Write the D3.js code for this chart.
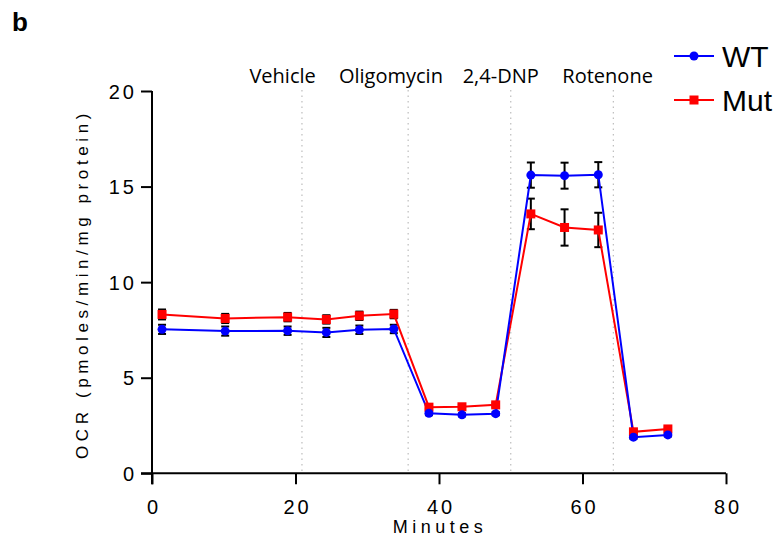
<!DOCTYPE html>
<html>
<head>
<meta charset="utf-8">
<script src="https://cdn.jsdelivr.net/npm/d3@7"></script>
<style>
body { margin: 0; background: #fff; }
svg { font-family: "Liberation Sans", Arial, sans-serif; }
.axis path, .axis line { stroke: #000; stroke-width: 2; }
.axis text { font-size: 20px; letter-spacing: 3px; fill: #000; }
.inj { font-family: "Open Sans", sans-serif; font-size: 20px; }
</style>
</head>
<body>
<div id="chart"></div>
<script>
var w = 778, h = 544;

// time points (minutes)
var minutes = [1.4, 10.2, 18.9, 24.3, 28.9, 33.7, 38.6, 43.2, 47.9, 52.8, 57.5, 62.2, 67.1, 71.9];
var wt     = [7.53, 7.44, 7.46, 7.37, 7.51, 7.55, 3.14, 3.06, 3.12, 15.60, 15.57, 15.62, 1.89, 2.01];
var wtErr  = [0.24, 0.24, 0.22, 0.24, 0.22, 0.22, 0.10, 0.08, 0.08, 0.66, 0.68, 0.66, 0.08, 0.08];
var mut    = [8.31, 8.10, 8.17, 8.05, 8.24, 8.33, 3.46, 3.48, 3.58, 13.57, 12.86, 12.73, 2.17, 2.32];
var mutErr = [0.26, 0.24, 0.22, 0.22, 0.22, 0.22, 0.10, 0.10, 0.10, 0.80, 0.95, 0.90, 0.08, 0.08];

var injections = [20.9, 35.7, 50.0, 64.3];
var injLabels = ["Vehicle", "Oligomycin", "2,4-DNP", "Rotenone"];
var injLabelAt = [18.2, 33.3, 48.6, 63.5];

var xTicks = [0, 20, 40, 60, 80];
var yTicks = [0, 5, 10, 15, 20];

var x = d3.scaleLinear().domain([0, 80]).range([152, 726]);
var y = d3.scaleLinear().domain([0, 20]).range([473.3, 91]);

var svg = d3.select('#chart').append('svg').attr('width', w).attr('height', h);

// panel letter
svg.append('text').attr('x', 12).attr('y', 31)
  .style('font-size', '26px').style('font-weight', 'bold').text('b');

// injection markers
svg.selectAll('.inj-line').data(injections).enter().append('line')
  .attr('x1', function(d) { return x(d); }).attr('x2', function(d) { return x(d); })
  .attr('y1', 90).attr('y2', 472)
  .attr('stroke', '#bdbdbd').attr('stroke-width', 1.2)
  .attr('stroke-dasharray', '1.5,4');

svg.selectAll('.inj').data(injLabels).enter().append('text')
  .attr('class', 'inj')
  .attr('x', function(d, i) { return x(injLabelAt[i]); })
  .attr('y', 83).attr('text-anchor', 'middle').text(function(d) { return d; });

// axes
var xAxis = svg.append('g').attr('class', 'axis').attr('transform', 'translate(0,' + y(0) + ')')
  .call(d3.axisBottom(x).tickValues(xTicks).tickSize(11).tickSizeOuter(0).tickPadding(16));
xAxis.select('.domain').attr('d', 'M141,0H' + x(80));
xAxis.selectAll('text').attr('dx', 1.5);

var yAxis = svg.append('g').attr('class', 'axis').attr('transform', 'translate(' + x(0) + ',0)')
  .call(d3.axisLeft(y).tickValues(yTicks).tickSize(11).tickSizeOuter(0).tickPadding(6));
yAxis.select('.domain').attr('d', 'M0,' + y(20) + 'V' + (y(0) + 11));
yAxis.selectAll('text').attr('dx', 2).attr('dy', '0.36em');

// axis titles
svg.append('text').attr('x', 440).attr('y', 533).attr('text-anchor', 'middle')
  .style('font-size', '18px').style('letter-spacing', '4.5px').text('Minutes');
svg.append('text').attr('transform', 'translate(88,284) rotate(-90)').attr('text-anchor', 'middle')
  .style('font-size', '17px').style('letter-spacing', '4.6px').text('OCR (pmoles/min/mg protein)');

var line = function(vals) {
  return d3.line().x(function(d, i) { return x(minutes[i]); }).y(function(d) { return y(d); })(vals);
};

function errBars(vals, errs) {
  var g = svg.append('g').attr('stroke', '#000').attr('stroke-width', 2);
  vals.forEach(function(v, i) {
    var cx = x(minutes[i]), t = y(v + errs[i]), b = y(v - errs[i]);
    g.append('line').attr('x1', cx).attr('x2', cx).attr('y1', t).attr('y2', b);
    g.append('line').attr('x1', cx - 4).attr('x2', cx + 4).attr('y1', t).attr('y2', t);
    g.append('line').attr('x1', cx - 4).attr('x2', cx + 4).attr('y1', b).attr('y2', b);
  });
}

errBars(wt, wtErr);
errBars(mut, mutErr);

svg.append('path').attr('d', line(mut)).attr('fill', 'none').attr('stroke', '#ff0000').attr('stroke-width', 2);
svg.append('path').attr('d', line(wt)).attr('fill', 'none').attr('stroke', '#0000ff').attr('stroke-width', 2);

svg.selectAll('.mpt').data(mut).enter().append('rect')
  .attr('x', function(d, i) { return x(minutes[i]) - 4.5; })
  .attr('y', function(d) { return y(d) - 4.5; })
  .attr('width', 9).attr('height', 9).attr('fill', '#ff0000');

svg.selectAll('.wpt').data(wt).enter().append('circle')
  .attr('cx', function(d, i) { return x(minutes[i]); })
  .attr('cy', function(d) { return y(d); })
  .attr('r', 4.5).attr('fill', '#0000ff');

// legend
var legend = [{ name: 'WT', color: '#0000ff', y: 56 }, { name: 'Mut', color: '#ff0000', y: 100 }];
legend.forEach(function(l) {
  svg.append('line').attr('x1', 674).attr('x2', 714).attr('y1', l.y).attr('y2', l.y)
    .attr('stroke', l.color).attr('stroke-width', 2);
  if (l.name === 'WT') {
    svg.append('circle').attr('cx', 694).attr('cy', l.y).attr('r', 4.5).attr('fill', l.color);
  } else {
    svg.append('rect').attr('x', 689.5).attr('y', l.y - 4.5).attr('width', 9).attr('height', 9).attr('fill', l.color);
  }
  svg.append('text').attr('x', 722).attr('y', l.y + 11).style('font-size', '30px').text(l.name);
});
</script>
</body>
</html>
